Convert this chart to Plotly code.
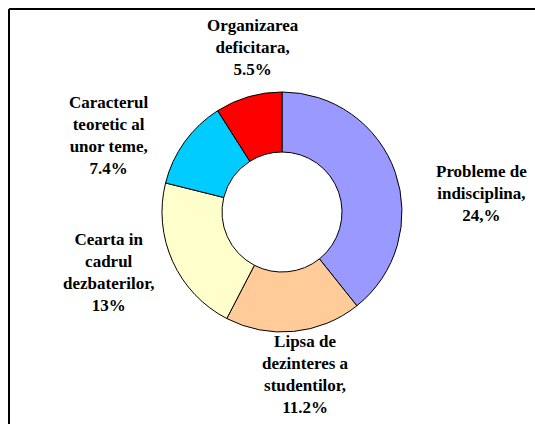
import plotly.graph_objects as go

# slices, clockwise from 12 o'clock
labels = ["Probleme de<br>indisciplina,", "Lipsa de<br>dezinteres a<br>studentilor,",
          "Cearta in<br>cadrul<br>dezbaterilor,", "Caracterul<br>teoretic al<br>unor teme,",
          "Organizarea<br>deficitara,"]
values = [24, 11.2, 13, 7.4, 5.5]
pct_text = ["24,%", "11.2%", "13%", "7.4%", "5.5%"]
colors = ["#9999FF", "#FFCC99", "#FFFFCC", "#00CCFF", "#FF0000"]

# label block centres in pixels (x, y from top)
label_pos = [(481, 193), (305, 374), (108, 272), (109, 136), (253, 48)]

W, H = 535, 424
cx, cy, r = 282, 212, 120


def px(x):
    return x / W


def py(y):
    return 1 - y / H


fig = go.Figure(go.Pie(
    labels=labels,
    values=values,
    hole=0.5,
    sort=False,
    direction="clockwise",
    rotation=0,
    textinfo="none",
    hoverinfo="label+value",
    marker=dict(colors=colors, line=dict(color="black", width=1)),
    domain=dict(x=[(cx - r) / W, (cx + r) / W], y=[1 - (cy + r) / H, 1 - (cy - r) / H]),
    showlegend=False,
))

for lab, pct, (lx, ly) in zip(labels, pct_text, label_pos):
    fig.add_annotation(
        x=px(lx), y=py(ly), xref="paper", yref="paper",
        text="<b>" + lab + "<br>" + pct + "</b>",
        showarrow=False, xanchor="center", yanchor="middle", align="center",
        font=dict(family="Liberation Serif", size=17, color="black"),
    )

# chart frame: only the left and top edges are inside the picture
fig.add_shape(type="line", xref="paper", yref="paper",
              x0=px(9), x1=px(9), y0=0, y1=py(9),
              line=dict(color="black", width=2))
fig.add_shape(type="line", xref="paper", yref="paper",
              x0=px(9), x1=1, y0=py(9), y1=py(9),
              line=dict(color="black", width=2))

fig.update_layout(
    width=W, height=H,
    margin=dict(l=0, r=0, t=0, b=0),
    paper_bgcolor="white",
    plot_bgcolor="white",
)

# drop the default page margin so the figure sits flush in the window
fig.write_html("out.html",
               config={"displayModeBar": False},
               post_script="document.body.style.margin='0px';"
                           "document.body.style.overflow='hidden';")
